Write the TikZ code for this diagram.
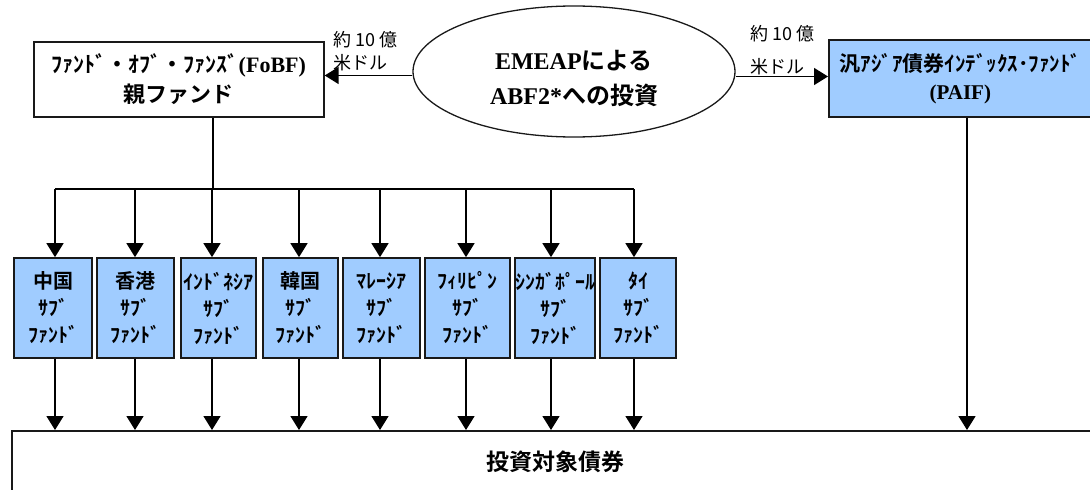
\documentclass[tikz,border=0pt]{standalone}
\usepackage{fontspec}
\setmainfont{Liberation Serif}
\newfontfamily\jp{Noto Sans CJK JP}[BoldFont={Noto Sans CJK JP Bold}]
\usetikzlibrary{arrows.meta,shapes.geometric}
\definecolor{paleblue}{RGB}{160,204,255}
\definecolor{edge}{RGB}{25,25,25}
\begin{document}
\begin{tikzpicture}[x=1pt,y=-1pt,
  box/.style={draw=edge,line width=1.7pt,inner sep=0pt,align=center},
  sub/.style={box,fill=paleblue,font=\jp\bfseries\fontsize{20}{27}\selectfont},
  arr/.style={line width=1.6pt,-{Triangle[width=17pt,length=14pt]}},
  wire/.style={line width=1.6pt},
  lbl/.style={font=\jp\fontsize{18}{23}\selectfont,align=left,inner sep=0pt,anchor=west}]
\useasboundingbox (0,0) rectangle (1090,490);

% top boxes
\node[box,minimum width=290pt,minimum height=75pt,anchor=north west,
      font=\bfseries\fontsize{22}{30}\selectfont] (fobf) at (33,41)
  {{\jp ﾌｧﾝﾄﾞ・ｵﾌﾞ・ﾌｧﾝｽﾞ}(FoBF)\\{\jp 親ファンド}};
\node[ellipse,draw=edge,line width=1.3pt,minimum width=322pt,minimum height=131pt,
      inner sep=0pt,font=\bfseries\fontsize{24}{35}\selectfont] (ell) at (574,71.5)
  {\raisebox{-8pt}[\height][\depth]{\begin{tabular}{@{}c@{}}EMEAP{\jp による}\\ABF2*{\jp への投資}\end{tabular}}};
\node[box,fill=paleblue,minimum width=263pt,minimum height=77pt,anchor=north west,
      font=\bfseries\fontsize{21}{28}\selectfont] (paif) at (828,39)
  {{\jp 汎ｱｼﾞｱ債券ｲﾝﾃﾞｯｸｽ･ﾌｧﾝﾄﾞ}\\(PAIF)};

% amount labels
\node[lbl] (lblL) at (333,51.5) {約 10 億\\米ドル};
\node[lbl,font=\jp\fontsize{18}{33}\selectfont] (lblR) at (750,50) {約 10 億\\米ドル};

\coordinate (ellL) at ([yshift=-4pt]ell.west);
\coordinate (ellR) at ([yshift=-5pt]ell.east);
\draw[arr] (ellL) -- (ellL -| fobf.east);
\draw[arr] (ellR) -- (ellR -| paif.west);

% bottom box
\node[box,minimum width=1088pt,minimum height=62pt,anchor=north west,
      font=\jp\bfseries\fontsize{23}{28}\selectfont] (bonds) at (11,430) {投資対象債券};

% bus
\coordinate (bus) at (213,189);
\coordinate (busL) at (55,189);
\coordinate (busR) at (634,189);
\draw[wire] (fobf.south -| bus) -- (bus);
\draw[wire] (busL) -- (busR);

% sub funds
\foreach \i/\l/\r/\ax/\t in {1/14/92/55/中国, 2/97/174/135/香港, 3/181/256/212/ｲﾝﾄﾞﾈｼｱ,
    4/263/338/299/韓国, 5/343/420/380/ﾏﾚｰｼｱ, 6/425/510/466/ﾌｨﾘﾋﾟﾝ,
    7/516/594/551/ｼﾝｶﾞﾎﾟｰﾙ, 8/600/676/634/ﾀｲ}{
  \node[sub,minimum width=\r pt-\l pt,minimum height=100pt] (s\i) at ({(\l+\r)/2},308)
    {\t\\ｻﾌﾞ\\ﾌｧﾝﾄﾞ};
  \draw[arr] (bus -| \ax,0) -- (s\i.north -| \ax,0);
  \draw[arr] (s\i.south -| \ax,0) -- (bonds.north -| \ax,0);
}

\draw[arr] (paif.south -| 967,0) -- (bonds.north -| 967,0);
\end{tikzpicture}
\end{document}
